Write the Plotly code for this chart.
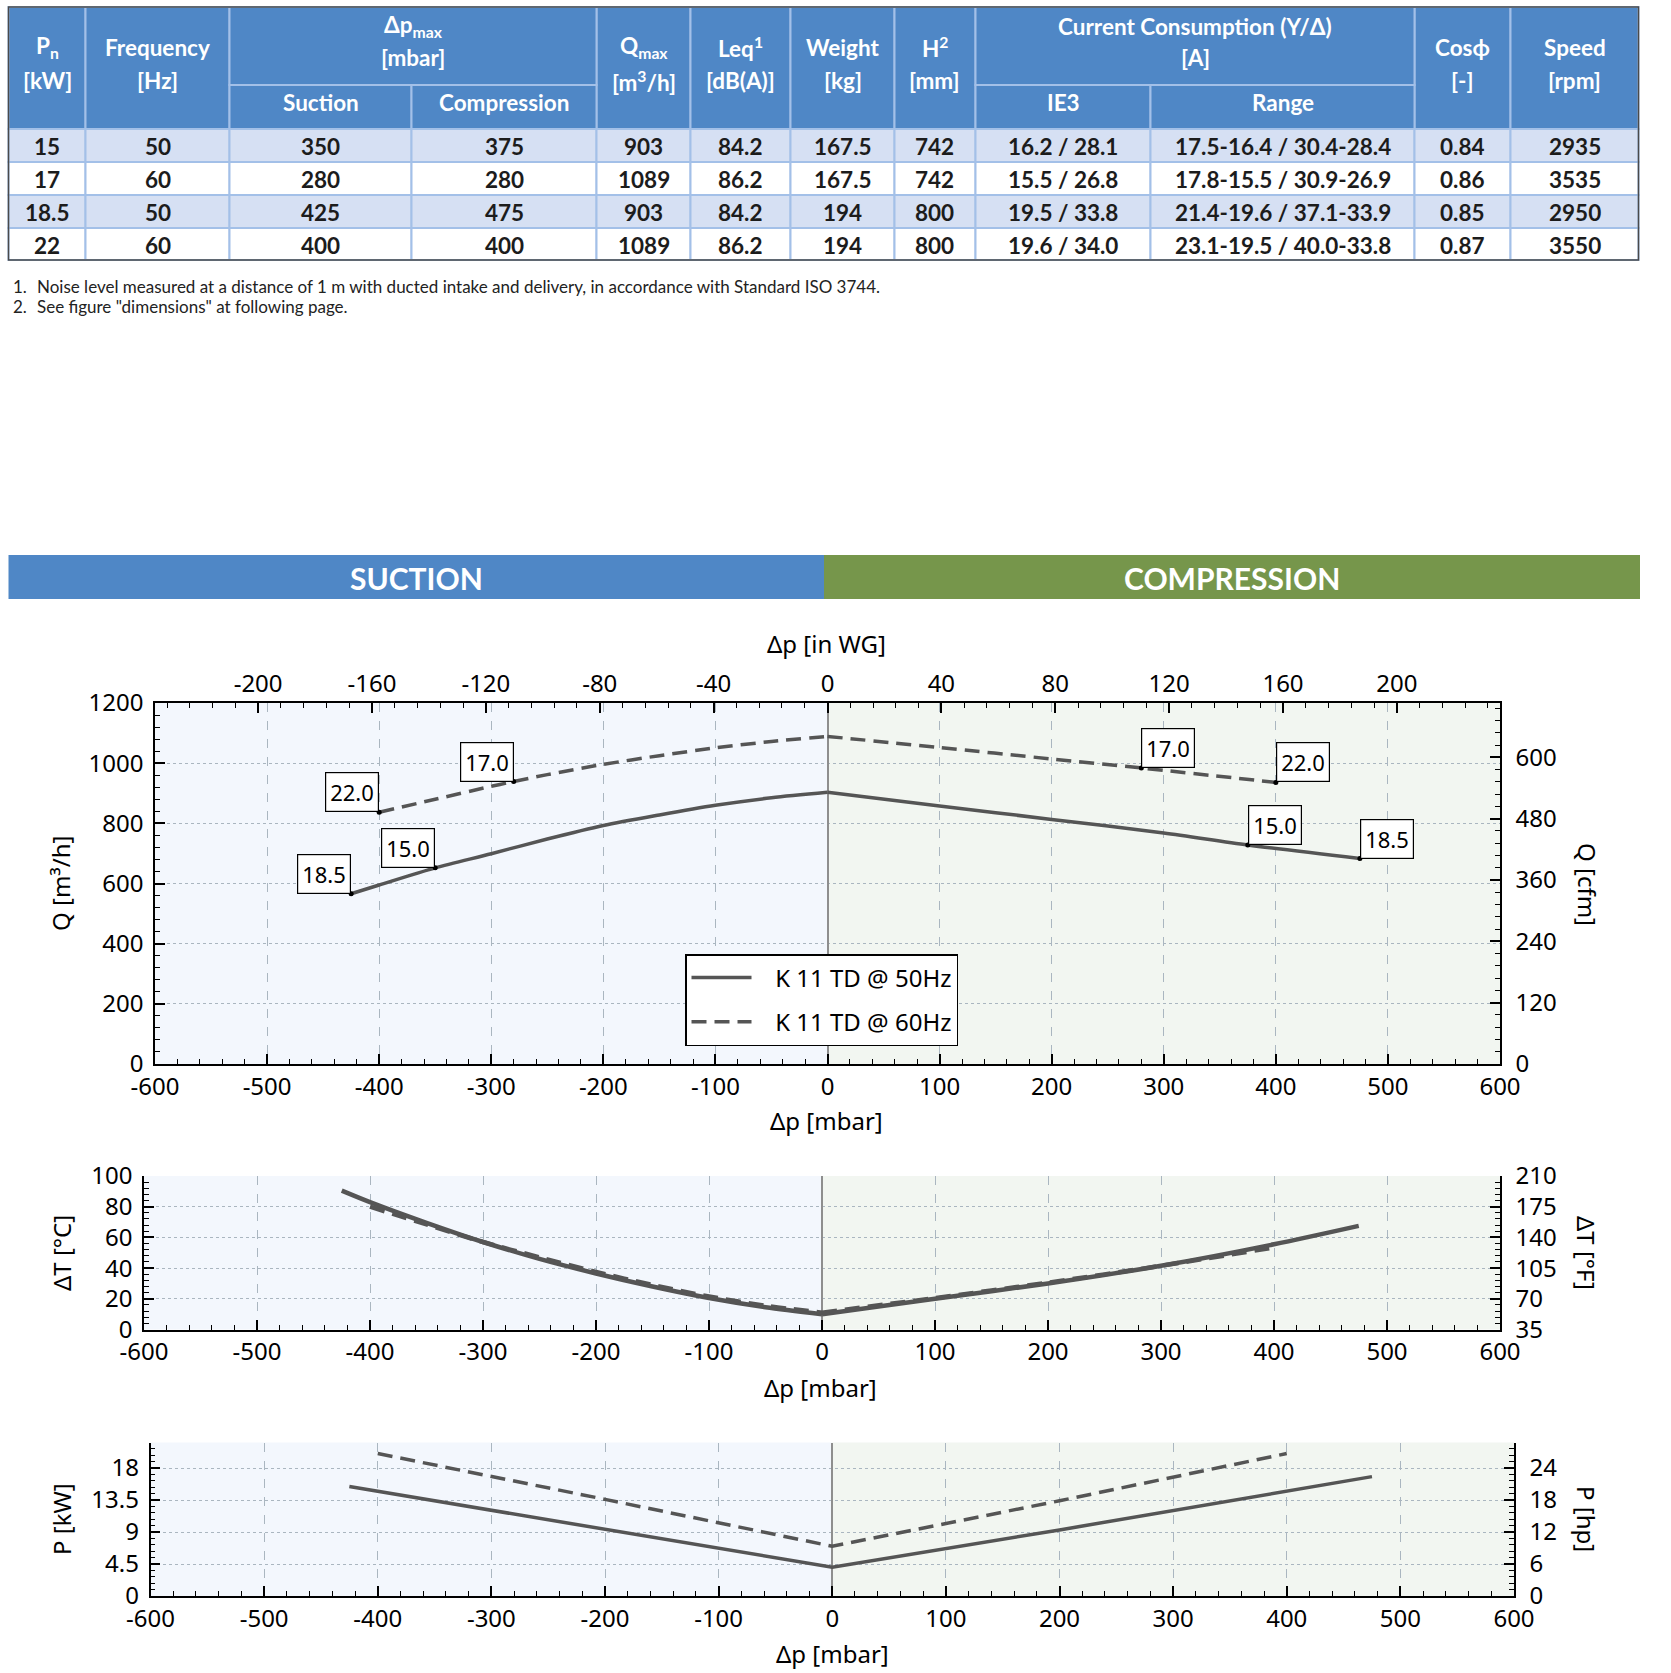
import plotly.graph_objects as go

W, H = 1671, 1673


def fx(p):
    return p / W


def fy(p):
    return 1 - p / H


CF = "Noto Sans, DejaVu Sans, sans-serif"
TF = "Lato, Carlito, Open Sans, sans-serif"
LINE = "#555555"
GRID = "#aab6c0"

# ---------------- table data ----------------
pn = ["15", "17", "18.5", "22"]
freq = ["50", "60", "50", "60"]
dp_suction = ["350", "280", "425", "400"]
dp_compression = ["375", "280", "475", "400"]
qmax = ["903", "1089", "903", "1089"]
leq = ["84.2", "86.2", "84.2", "86.2"]
weight = ["167.5", "167.5", "194", "194"]
height_mm = ["742", "742", "800", "800"]
ie3 = ["16.2 / 28.1", "15.5 / 26.8", "19.5 / 33.8", "19.6 / 34.0"]
cur_range = ["17.5-16.4 / 30.4-28.4", "17.8-15.5 / 30.9-26.9",
             "21.4-19.6 / 37.1-33.9", "23.1-19.5 / 40.0-33.8"]
cosphi = ["0.84", "0.86", "0.85", "0.87"]
speed = ["2935", "3535", "2950", "3550"]

footnotes = ["Noise level measured at a distance of 1 m with ducted intake and delivery, in accordance with Standard ISO 3744.",
             "See figure \"dimensions\" at following page."]

# ---------------- chart data ----------------
# Flow Q [m3/h] vs delta p [mbar] (negative = suction, positive = compression)
dp_q50_suc = [-425, -400, -350, -300, -250, -200, -150, -100, -50, 0]
q50_suc = [566, 595, 652, 699, 748, 793, 828, 860, 885, 903]
dp_q50_com = [0, 100, 200, 300, 375, 475]
q50_com = [903, 858, 813, 768, 728, 683]
dp_q60_suc = [-400, -350, -300, -280, -250, -200, -150, -100, -50, 0]
q60_suc = [837, 880, 923, 939, 962, 996, 1025, 1051, 1072, 1089]
dp_q60_com = [0, 100, 200, 280, 400]
q60_com = [1089, 1052, 1014, 984, 936]

# operating-limit labels (motor power kW)
lab50_dp = [-425, -350, 375, 475]
lab50_q = [566, 652, 728, 683]
lab50_txt = ["18.5", "15.0", "15.0", "18.5"]
lab60_dp = [-400, -280, 280, 400]
lab60_q = [837, 939, 984, 936]
lab60_txt = ["22.0", "17.0", "17.0", "22.0"]

# Temperature rise dT [C]
dp_t50_suc = [-425, -400, -350, -300, -250, -200, -150, -100, -50, 0]
t50_suc = [90.5, 83, 69.5, 57, 46, 36.5, 28, 20.5, 14.5, 10]
dp_t50_com = [0, 100, 200, 300, 400, 475]
t50_com = [10, 20, 30, 41.5, 55.5, 67.5]
dp_t60_suc = [-400, -350, -300, -250, -200, -150, -100, -50, 0]
t60_suc = [80, 68.5, 57, 47, 37.5, 29, 21.5, 15.5, 11]
dp_t60_com = [0, 100, 200, 300, 400]
t60_com = [11, 20.5, 30.5, 41.5, 53.5]

# Absorbed power P [kW]
dp_p50 = [-425, -200, 0, 200, 400, 475]
p50 = [15.4, 9.4, 4.05, 9.3, 14.7, 16.8]
dp_p60 = [-400, -200, 0, 200, 400]
p60 = [20.05, 13.6, 7.0, 13.4, 20.05]

legend_names = ["K 11 TD @ 50Hz", "K 11 TD @ 60Hz"]

# unit conversions used by the secondary axes
MBAR_PER_INWG = 2.54
CFM_PER_M3H = 0.5886
HP_PER_KW = 4 / 3

DASH = "15px,8px"
NBSP = "\u00a0\u00a0\u00a0"
fig = go.Figure()


def curve(x, y, xa, ya, width, dash=None, name=None, group=None, legend=False, shape="spline"):
    fig.add_trace(go.Scatter(x=x, y=y, mode="lines", name=name, legendgroup=group, showlegend=legend,
                             line=dict(color=LINE, width=width, dash=dash, shape=shape, smoothing=0.8),
                             xaxis=xa, yaxis=ya, hoverinfo="skip"))


def carrier(x, y, xa, ya):
    fig.add_trace(go.Scatter(x=x, y=y, mode="lines", line=dict(width=0), opacity=0, showlegend=False,
                             xaxis=xa, yaxis=ya, hoverinfo="skip"))


# ---- chart 1 ----
curve(dp_q50_suc, q50_suc, "x", "y", 3.5, None, NBSP + legend_names[0], "a", True)
curve(dp_q50_com, q50_com, "x", "y", 3.5, None, legend_names[0], "a")
curve(dp_q60_suc, q60_suc, "x", "y", 3.5, DASH, NBSP + legend_names[1], "b", True)
curve(dp_q60_com, q60_com, "x", "y", 3.5, DASH, legend_names[1], "b")
fig.add_trace(go.Scatter(x=lab50_dp + lab60_dp, y=lab50_q + lab60_q, mode="markers", showlegend=False,
                         marker=dict(size=5, color="black"), xaxis="x", yaxis="y", hoverinfo="skip"))
carrier([d / MBAR_PER_INWG for d in dp_q50_suc], q50_suc, "x2", "y")
carrier(dp_q50_suc, [q * CFM_PER_M3H for q in q50_suc], "x", "y2")

# ---- chart 2 ----
curve(dp_t50_suc, t50_suc, "x3", "y3", 4.5)
curve(dp_t50_com, t50_com, "x3", "y3", 4.5)
curve(dp_t60_suc, t60_suc, "x3", "y3", 4.5, DASH)
curve(dp_t60_com, t60_com, "x3", "y3", 4.5, DASH)
carrier(dp_t50_suc, [35 + 1.75 * t for t in t50_suc], "x3", "y4")

# ---- chart 3 ----
curve(dp_p50, p50, "x4", "y5", 3.5, shape="linear")
curve(dp_p60, p60, "x4", "y5", 3.5, DASH, shape="linear")
carrier(dp_p50, [p * HP_PER_KW for p in p50], "x4", "y6")

tickfont = dict(family=CF, size=24, color="black")


def tickset(start, stop, step):
    vals = []
    v = start
    while v <= stop + 1e-9:
        vals.append(round(v, 6))
        v += step
    return vals, [f"{t:g}" for t in vals]


def common(vals, texts, mdtick, mtick0=0):
    return dict(tickmode="array", tickvals=vals, ticktext=texts,
                ticks="inside", ticklen=10, tickwidth=1.5, tickcolor="black",
                showline=True, linecolor="black", linewidth=1.5, automargin=False,
                minor=dict(tickmode="linear", dtick=mdtick, tick0=mtick0, ticks="inside", ticklen=5,
                           tickwidth=1.2, tickcolor="black", showgrid=False),
                tickfont=tickfont, fixedrange=True)


mbar_vals, mbar_text = tickset(-600, 600, 100)


def xbottom(domain, anchor):
    d = common(mbar_vals, mbar_text, 20)
    d.update(domain=domain, anchor=anchor, range=[-600, 600],
             showgrid=True, gridcolor=GRID, griddash="dash", gridwidth=1,
             zeroline=True, zerolinecolor="#8e8e8e", zerolinewidth=1.5, ticklabelstandoff=0)
    return d


def yleft(domain, anchor, rng, step, mdtick):
    v, t = tickset(rng[0], rng[1], step)
    d = common(v, t, mdtick)
    d.update(domain=domain, anchor=anchor, range=rng, showgrid=True, gridcolor=GRID,
             griddash="dot", gridwidth=1.2, zeroline=False, ticklabelstandoff=5)
    return d


def yright(overlay, anchor, rng, start, step, mdtick):
    v, t = tickset(start, rng[1], step)
    d = common(v, t, mdtick, start)
    d.update(overlaying=overlay, anchor=anchor, side="right", range=rng, showgrid=False,
             zeroline=False, ticklabelstandoff=9)
    return d


inwg_vals, inwg_text = tickset(-200, 200, 40)
xtop = common(inwg_vals, inwg_text, 8)
xtop.update(overlaying="x", anchor="y", side="top", range=[-600 / MBAR_PER_INWG, 600 / MBAR_PER_INWG],
            showgrid=False, zeroline=False, ticklabelstandoff=0)

c1x = [fx(155), fx(1500)]
c1y = [fy(1064), fy(703)]
c2x = [fx(144), fx(1500)]
c2y = [fy(1329.5), fy(1176)]
c3x = [fx(150.5), fx(1514)]
c3y = [fy(1596), fy(1442.5)]

layout = dict(
    template="none",
    width=W, height=H, margin=dict(l=0, r=0, t=0, b=0, pad=0), autosize=False,
    paper_bgcolor="white", plot_bgcolor="white",
    xaxis=xbottom(c1x, "y"),
    xaxis2=xtop,
    yaxis=yleft(c1y, "x", [0, 1200], 200, 40),
    yaxis2=yright("y", "x", [0, 1200 * CFM_PER_M3H], 0, 120, 24),
    xaxis3=xbottom(c2x, "y3"),
    yaxis3=yleft(c2y, "x3", [0, 100], 20, 4),
    yaxis4=yright("y3", "x3", [35, 210], 35, 35, 7),
    xaxis4=xbottom(c3x, "y5"),
    yaxis5=yleft(c3y, "x4", [0, 21.6], 4.5, 0.9),
    yaxis6=yright("y5", "x4", [0, 21.6 * HP_PER_KW], 0, 6, 1.2),
    showlegend=True,
    legend=dict(x=fx(685), y=fy(954), xanchor="left", yanchor="top", bgcolor="white",
                bordercolor="black", borderwidth=1.5, font=dict(family=CF, size=24, color="black"),
                itemwidth=60, tracegroupgap=10, traceorder="grouped"),
)
fig.update_layout(**layout)

shapes = []
annotations = []

# background halves of charts
for xr, yr in (("x", "y domain"), ("x3", "y3 domain"), ("x4", "y5 domain")):
    shapes.append(dict(type="rect", xref=xr, yref=yr, x0=-600, x1=0, y0=0, y1=1,
                       fillcolor="#f3f7fd", line=dict(width=0), layer="below"))
    shapes.append(dict(type="rect", xref=xr, yref=yr, x0=0, x1=600, y0=0, y1=1,
                       fillcolor="#f2f6f1", line=dict(width=0), layer="below"))

# boxed labels chart 1
for dps, qs, txts in ((lab50_dp, lab50_q, lab50_txt), (lab60_dp, lab60_q, lab60_txt)):
    for d, q, t in zip(dps, qs, txts):
        annotations.append(dict(x=d, y=q, xref="x", yref="y", text=t, showarrow=False,
                                xanchor="right" if d < 0 else "left", yanchor="bottom",
                                bgcolor="white", bordercolor="black", borderwidth=1.2, borderpad=4,
                                font=dict(family=CF, size=22, color="black")))

# axis titles
tfont = dict(family=CF, size=24, color="black")
titles = [
    ("Δp [in WG]", 826, 643, 0), ("Δp [mbar]", 826, 1120, 0),
    ("Q [m³/h]", 61, 884, -90), ("Q [cfm]", 1587, 884, 90),
    ("Δp [mbar]", 820, 1387, 0), ("ΔT [°C]", 61, 1253, -90), ("ΔT [°F]", 1587, 1253, 90),
    ("Δp [mbar]", 832, 1653, 0), ("P [kW]", 61, 1519, -90), ("P [hp]", 1587, 1519, 90),
]
for t, x, y, a in titles:
    annotations.append(dict(x=fx(x), y=fy(y), xref="paper", yref="paper", text=t, showarrow=False,
                            xanchor="center", yanchor="middle", textangle=a, font=tfont))

# ---------------- table ----------------
col_w = [77, 144, 182, 185, 94, 100, 104, 81, 175, 264, 96, 128]
edges = [8.5]
for w in col_w:
    edges.append(edges[-1] + w)
hdr_top, hdr_mid, hdr_bot = 7, 85, 129
row_edges = [129, 162, 195, 228, 260]
HDR_FILL = "#4f87c6"
CELL_LINE = "#a3c0e8"
row_fill = ["#d6e0f3", "#ffffff", "#d6e0f3", "#ffffff"]

header_full = {0: ["P<sub>n</sub>", "[kW]"], 1: ["Frequency", "[Hz]"],
               4: ["Q<sub>max</sub>", "[m<sup>3</sup>/h]"], 5: ["Leq<sup>1</sup>", "[dB(A)]"],
               6: ["Weight", "[kg]"], 7: ["H<sup>2</sup>", "[mm]"],
               10: ["Cosϕ", "[-]"], 11: ["Speed", "[rpm]"]}
header_group = [(2, ["Δp<sub>max</sub>", "[mbar]"], ["Suction", "Compression"]),
                (8, ["Current Consumption (Y/Δ)", "[A]"], ["IE3", "Range"])]
body_cols = [pn, freq, dp_suction, dp_compression, qmax, leq, weight, height_mm,
             ie3, cur_range, cosphi, speed]

hfont = dict(family=TF, size=22.5, color="white", weight="bold")
bfont = dict(family=TF, size=22.5, color="#1c1c1c", weight="bold")


def rect(x0, x1, y0, y1, fill, line=CELL_LINE, lw=2):
    shapes.append(dict(type="rect", xref="paper", yref="paper", x0=fx(x0), x1=fx(x1),
                       y0=fy(y1), y1=fy(y0), fillcolor=fill, line=dict(color=line, width=lw)))


def text(t, x, y, font, xanchor="center"):
    annotations.append(dict(x=fx(x), y=fy(y), xref="paper", yref="paper", text=t, showarrow=False,
                            xanchor=xanchor, yanchor="middle", font=font))


# body
for r in range(4):
    for c, col in enumerate(body_cols):
        rect(edges[c], edges[c + 1], row_edges[r], row_edges[r + 1], row_fill[r])
        text(col[r], (edges[c] + edges[c + 1]) / 2, (row_edges[r] + row_edges[r + 1]) / 2 + 1, bfont)
# header
for c, lines in header_full.items():
    rect(edges[c], edges[c + 1], hdr_top, hdr_bot, HDR_FILL)
    cx = (edges[c] + edges[c + 1]) / 2
    text(lines[0], cx, 47, hfont)
    text(lines[1], cx, 81, hfont)
for c, top_lines, subs in header_group:
    rect(edges[c], edges[c + 2], hdr_top, hdr_mid, HDR_FILL)
    cx = (edges[c] + edges[c + 2]) / 2
    text(top_lines[0], cx, 26, hfont)
    text(top_lines[1], cx, 58, hfont)
    for k, s in enumerate(subs):
        rect(edges[c + k], edges[c + k + 1], hdr_mid, hdr_bot, HDR_FILL)
        text(s, (edges[c + k] + edges[c + k + 1]) / 2, 103, hfont)
# outer border
shapes.append(dict(type="rect", xref="paper", yref="paper", x0=fx(edges[0]), x1=fx(edges[-1]),
                   y0=fy(row_edges[-1]), y1=fy(hdr_top), line=dict(color="#4a4a4a", width=1.5)))

# footnotes
ffont = dict(family=TF, size=17, color="#222222")
for i, note in enumerate(footnotes):
    y = 286 + 20 * i
    text(f"{i + 1}.", 11, y, ffont, "left")
    text(note, 35, y, ffont, "left")

# section band
band = [("SUCTION", 8.5, 824, "#4f87c6"), ("COMPRESSION", 824, 1640, "#76964b")]
for label, x0, x1, col in band:
    shapes.append(dict(type="rect", xref="paper", yref="paper", x0=fx(x0), x1=fx(x1),
                       y0=fy(599), y1=fy(555), fillcolor=col, line=dict(width=0)))
    text(label, (x0 + x1) / 2, 578, dict(family=TF, size=30, color="white", weight="bold"))

fig.update_layout(shapes=shapes, annotations=annotations)

fig.write_html("out.html", config={"displayModeBar": False},
               post_script="document.body.style.margin='0px';document.body.style.overflow='hidden';")
